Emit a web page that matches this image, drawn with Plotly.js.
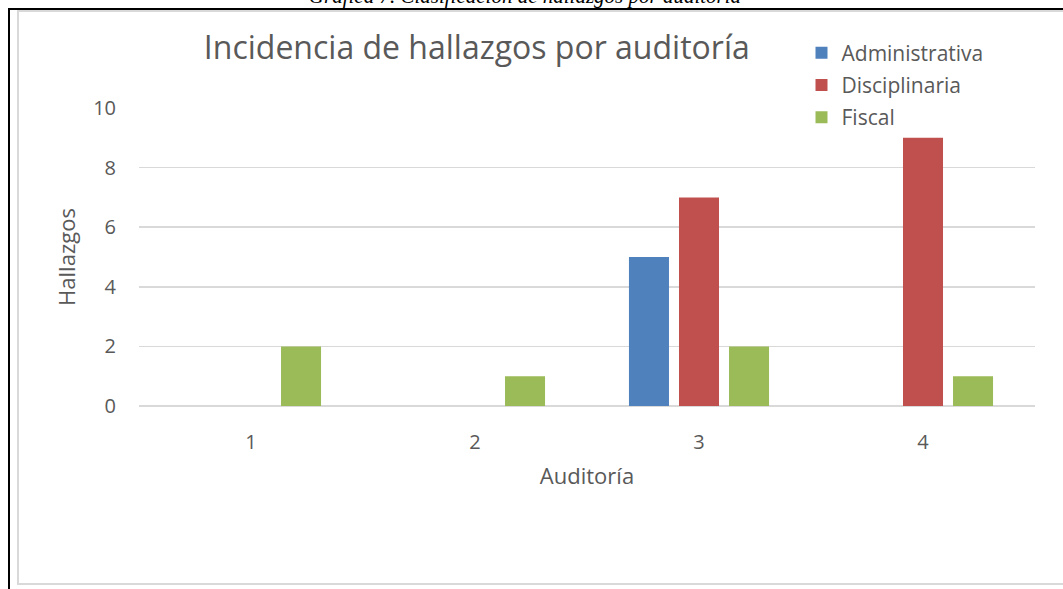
<!DOCTYPE html>
<html>
<head>
<meta charset="utf-8">
<script src="https://cdn.plot.ly/plotly-3.0.1.min.js"></script>
<style>
  html, body { margin:0; padding:0; width:1063px; height:589px; overflow:hidden; background:#fff; }
  #chart { position:absolute; left:0; top:0; width:1063px; height:589px; }
  #caption { position:absolute; left:0; width:1050px; text-align:center; top:-14px; font-family:"Liberation Serif", serif; font-style:italic; font-size:21px; line-height:21px; color:#000; white-space:nowrap; }
  #blackframe { position:absolute; left:8px; top:8px; width:1200px; height:700px; border-top:2px solid #000; border-left:2px solid #000; pointer-events:none; }
  #grayframe { position:absolute; left:17px; top:10px; width:1200px; height:575px; box-sizing:border-box; border:2px solid #d9d9d9; pointer-events:none; }
</style>
</head>
<body>
<div id="chart"></div>
<div id="caption">Gráfica 7. Clasificación de hallazgos por auditoría</div>
<div id="blackframe"></div>
<div id="grayframe"></div>
<script>
const categories = ['1', '2', '3', '4'];
const administrativa = [0, 0, 5, 0];
const disciplinaria = [0, 0, 7, 9];
const fiscal = [2, 1, 2, 1];
const seriesNames = ['Administrativa', 'Disciplinaria', 'Fiscal'];
const yTicks = [0, 2, 4, 6, 8, 10];

const colors = ['#4F81BD', '#C0504D', '#9BBB59'];
const font = '"Open Sans", sans-serif';
const textColor = '#595959';

const seriesValues = [administrativa, disciplinaria, fiscal];
const traces = seriesValues.map((vals, i) => ({
  type: 'bar',
  name: seriesNames[i],
  x: categories,
  y: vals,
  legendgroup: 'g' + i,
  marker: { color: colors[i], line: { width: 0 } },
  hoverinfo: 'x+y+name'
}));

const layout = {
  width: 1063,
  height: 589,
  margin: { l: 139, r: 28, t: 108, b: 183, pad: 0 },
  paper_bgcolor: '#ffffff',
  plot_bgcolor: 'rgba(0,0,0,0)',
  font: { family: font, color: textColor, size: 20 },
  barmode: 'group',
  bargap: 0.33,
  bargroupgap: 0.2,
  title: {
    text: 'Incidencia de hallazgos por auditoría',
    font: { family: font, size: 32, color: textColor },
    xref: 'paper', x: 0.377, xanchor: 'center',
    yref: 'container', y: 1 - 48 / 589, yanchor: 'middle'
  },
  xaxis: {
    type: 'category',
    tickvals: categories,
    ticktext: categories,
    showgrid: false,
    showline: false,
    zeroline: false,
    ticks: '',
    ticklabelstandoff: 22,
    tickfont: { family: font, size: 20, color: textColor },
    automargin: false,
    title: { text: 'Auditoría', font: { family: font, size: 22, color: textColor }, standoff: 14 }
  },
  yaxis: {
    range: [0, 10],
    tickvals: yTicks,
    ticktext: yTicks.map(String),
    showgrid: true,
    gridcolor: '#d9d9d9',
    gridwidth: 1.5,
    zeroline: true,
    zerolinecolor: '#d9d9d9',
    zerolinewidth: 1.5,
    showline: false,
    ticks: '',
    ticklabelstandoff: 22,
    tickfont: { family: font, size: 20, color: textColor },
    automargin: false,
    title: { text: 'Hallazgos', font: { family: font, size: 22, color: textColor }, standoff: 11 }
  },
  legend: {
    x: 0.7394, xanchor: 'left',
    y: 1.2534, yanchor: 'top',
    bgcolor: 'rgba(0,0,0,0)',
    borderwidth: 0,
    traceorder: 'grouped',
    tracegroupgap: 2,
    font: { family: font, size: 21, color: textColor },
    itemclick: false
  },
  showlegend: true
};

Plotly.newPlot('chart', traces, layout, { displayModeBar: false, staticPlot: true });
</script>
</body>
</html>
